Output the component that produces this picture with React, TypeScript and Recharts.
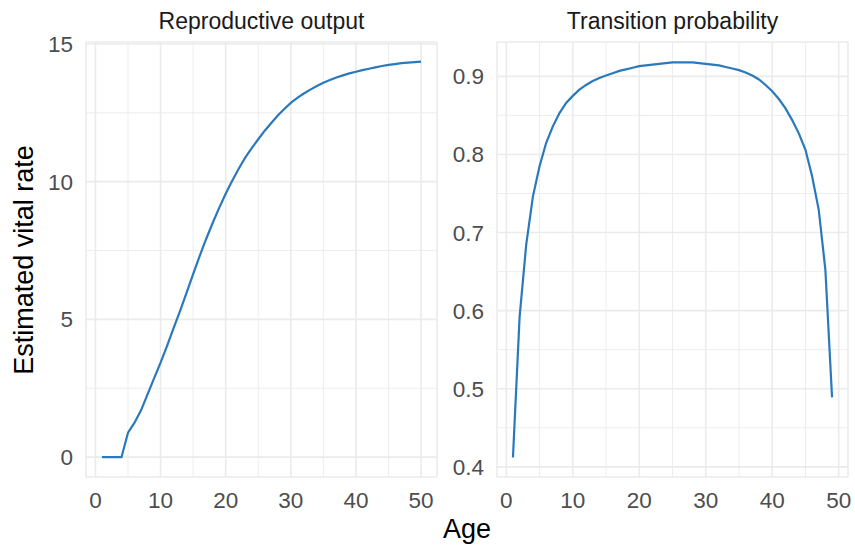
import { LineChart, Line, XAxis, YAxis, CartesianGrid, ReferenceLine } from "recharts"

const ages = [
  1, 2, 3, 4, 5, 6, 7, 8, 9, 10, 11, 12, 13, 14, 15, 16, 17, 18, 19, 20, 21, 22, 23, 24, 25,
  26, 27, 28, 29, 30, 31, 32, 33, 34, 35, 36, 37, 38, 39, 40, 41, 42, 43, 44, 45, 46, 47, 48, 49, 50,
]

const reproOutput = [
  0, 0, 0, 0, 0.89, 1.25, 1.7, 2.28, 2.86, 3.43, 4.04, 4.68, 5.31, 5.97, 6.64, 7.3, 7.92, 8.5, 9.05,
  9.56, 10.03, 10.47, 10.87, 11.22, 11.54, 11.85, 12.13, 12.4, 12.64, 12.86, 13.04, 13.2, 13.34,
  13.47, 13.59, 13.69, 13.78, 13.86, 13.93, 13.99, 14.05, 14.1, 14.15, 14.2, 14.24, 14.27, 14.3,
  14.32, 14.34, 14.36,
]

const transitionProb = [
  0.412, 0.592, 0.685, 0.746, 0.785, 0.815, 0.836, 0.853, 0.866, 0.875, 0.883, 0.889, 0.894, 0.898,
  0.901, 0.904, 0.907, 0.909, 0.911, 0.913, 0.914, 0.915, 0.916, 0.917, 0.918, 0.918, 0.918, 0.918,
  0.917, 0.916, 0.915, 0.914, 0.912, 0.91, 0.908, 0.905, 0.901, 0.896, 0.889, 0.881, 0.871, 0.859,
  0.844, 0.827, 0.806, 0.772, 0.729, 0.652, 0.489,
]

const xTicks = [0, 10, 20, 30, 40, 50]
const xMinor = [5, 15, 25, 35, 45]
const reproTicks = [0, 5, 10, 15]
const reproMinor = [2.5, 7.5, 12.5]
const probTicks = [0.4, 0.5, 0.6, 0.7, 0.8, 0.9]
const probMinor = [0.45, 0.55, 0.65, 0.75, 0.85]

const reproData = ages.map((age, i) => ({ age, value: reproOutput[i] }))
const probData = ages.slice(0, transitionProb.length).map((age, i) => ({ age, value: transitionProb[i] }))

const FONT = "'Liberation Sans', Arial, sans-serif"
const LINE = "#2a79bd"
const GRID = "#ebebeb"
const tickStyle = { fill: "#4d4d4d", fontSize: 22.5, fontFamily: FONT }

function Panel({
  data,
  xDomain,
  yDomain,
  yTicks,
  yMinor,
  yFormat,
  yWidth,
  width,
}: {
  data: { age: number; value: number }[]
  xDomain: [number, number]
  yDomain: [number, number]
  yTicks: number[]
  yMinor: number[]
  yFormat?: (v: number) => string
  yWidth: number
  width: number
}) {
  return (
    <LineChart width={width} height={546} data={data} margin={{ top: 42, right: 7, bottom: 39, left: 0 }}>
      <CartesianGrid stroke={GRID} strokeWidth={1.6} />
      {xMinor.map((v) => (
        <ReferenceLine key={"x" + v} x={v} stroke={GRID} strokeWidth={0.9} zIndex={-90} />
      ))}
      {yMinor.map((v) => (
        <ReferenceLine key={"y" + v} y={v} stroke={GRID} strokeWidth={0.9} zIndex={-90} />
      ))}
      <XAxis
        dataKey="age"
        type="number"
        domain={xDomain}
        ticks={xTicks}
        allowDataOverflow
        axisLine={false}
        tickLine={false}
        height={30}
        tickSize={6}
        tickMargin={9}
        tick={tickStyle}
        interval={0}
      />
      <YAxis
        type="number"
        domain={yDomain}
        ticks={yTicks}
        allowDataOverflow
        axisLine={false}
        tickLine={false}
        tickSize={6}
        tickMargin={7}
        width={yWidth}
        tick={tickStyle}
        tickFormatter={yFormat}
        interval={0}
      />
      <Line
        dataKey="value"
        type="linear"
        stroke={LINE}
        strokeWidth={2.2}
        dot={false}
        activeDot={false}
        isAnimationActive={false}
      />
    </LineChart>
  )
}

export default function App() {
  return (
    <div style={{ position: "absolute", left: 0, top: 0, width: 855, height: 546, background: "#fff" }}>
      <div style={{ position: "absolute", left: 0, top: 0 }}>
        <Panel
          data={reproData}
          xDomain={[-1.45, 52.45]}
          yDomain={[-0.72, 15.07]}
          yTicks={reproTicks}
          yMinor={reproMinor}
          yWidth={86}
          width={444}
        />
      </div>
      <div style={{ position: "absolute", left: 444, top: 0 }}>
        <Panel
          data={probData}
          xDomain={[-1.4, 51.4]}
          yDomain={[0.387, 0.944]}
          yTicks={probTicks}
          yMinor={probMinor}
          yFormat={(v) => v.toFixed(1)}
          yWidth={53}
          width={411}
        />
      </div>
      <svg width={855} height={546} style={{ position: "absolute", left: 0, top: 0, pointerEvents: "none" }}>
        <text x={261.5} y={29} textAnchor="middle" fontSize={23} fill="#1a1a1a" fontFamily={FONT}>
          Reproductive output
        </text>
        <text x={672.5} y={29} textAnchor="middle" fontSize={23} fill="#1a1a1a" fontFamily={FONT}>
          Transition probability
        </text>
        <text x={467} y={538} textAnchor="middle" fontSize={27} fill="#000" fontFamily={FONT}>
          Age
        </text>
        <text
          x={33}
          y={260}
          textAnchor="middle"
          fontSize={27}
          fill="#000"
          fontFamily={FONT}
          transform="rotate(-90, 33, 260)"
        >
          Estimated vital rate
        </text>
      </svg>
    </div>
  )
}
